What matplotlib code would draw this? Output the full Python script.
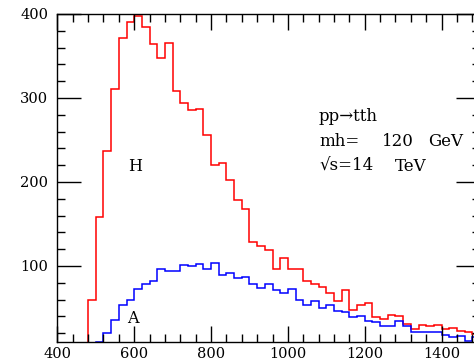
import numpy as np
import matplotlib.pyplot as plt

# histogram of m(tth) for pp -> tth, bins of 20 GeV
h_edges = np.arange(480, 1501, 20)
h_counts = [59, 158, 237, 311, 371, 391, 397, 385, 364, 347,
            366, 308, 294, 286, 287, 256, 220, 222, 202, 179,
            168, 129, 124, 119, 96, 110, 96, 96, 82, 79,
            75, 68, 58, 71, 48, 53, 56, 39, 37, 42,
            40, 31, 25, 30, 28, 30, 25, 26, 23, 21,
            19]

a_edges = np.arange(500, 1501, 20)
a_counts = [10, 20, 36, 54, 59, 73, 78, 82, 96, 94,
            94, 101, 100, 102, 96, 103, 89, 92, 86, 87,
            79, 74, 78, 72, 68, 73, 60, 53, 58, 50,
            54, 47, 45, 39, 41, 35, 33, 29, 29, 35,
            29, 21, 22, 22, 21, 18, 16, 17, 11, 15]

x_ticks = [400, 600, 800, 1000, 1200, 1400]
y_ticks = [100, 200, 300, 400]

plt.rcParams['font.family'] = ['DejaVu Serif', 'DejaVu Sans']

fig = plt.figure(figsize=(4.74, 3.62), dpi=100)
ax = fig.add_axes([0.121, 0.0564, 0.8917, 0.905])

ax.stairs(h_counts, h_edges, color='#ff0000', lw=1.1, baseline=0)
ax.stairs(a_counts, a_edges, color='#0000ff', lw=1.1, baseline=0)

ax.set_xlim(400, 1500)
ax.set_ylim(10, 400)

ax.set_xticks(x_ticks)
ax.set_xticks(np.arange(400, 1501, 40), minor=True)
ax.set_yticks(y_ticks)
ax.set_yticks(np.arange(20, 401, 20), minor=True)

ax.tick_params(which='both', direction='in', top=True, right=True,
               width=1, color='black', labelsize=10.5)
ax.tick_params(axis='x', which='major', length=11.5, pad=4)
ax.tick_params(axis='y', which='major', length=17, pad=6.5)
ax.tick_params(which='minor', length=5.8)
for s in ax.spines.values():
    s.set_linewidth(1)

# labels
ax.text(602, 219, 'H', fontsize=11.5, ha='center', va='center')
ax.text(597, 38, 'A', fontsize=11.5, ha='center', va='center')

ax.text(1081, 278, 'pp\u2192tth', fontsize=12, va='center')
ax.text(1081, 248, 'mh=', fontsize=12, va='center')
ax.text(1245, 248, '120', fontsize=12, va='center')
ax.text(1365, 248, 'GeV', fontsize=12, va='center')
ax.text(1081, 219, '\u221as=14', fontsize=12, va='center')
ax.text(1278, 219, 'TeV', fontsize=12, va='center')

fig.savefig('out.png', dpi=100)
